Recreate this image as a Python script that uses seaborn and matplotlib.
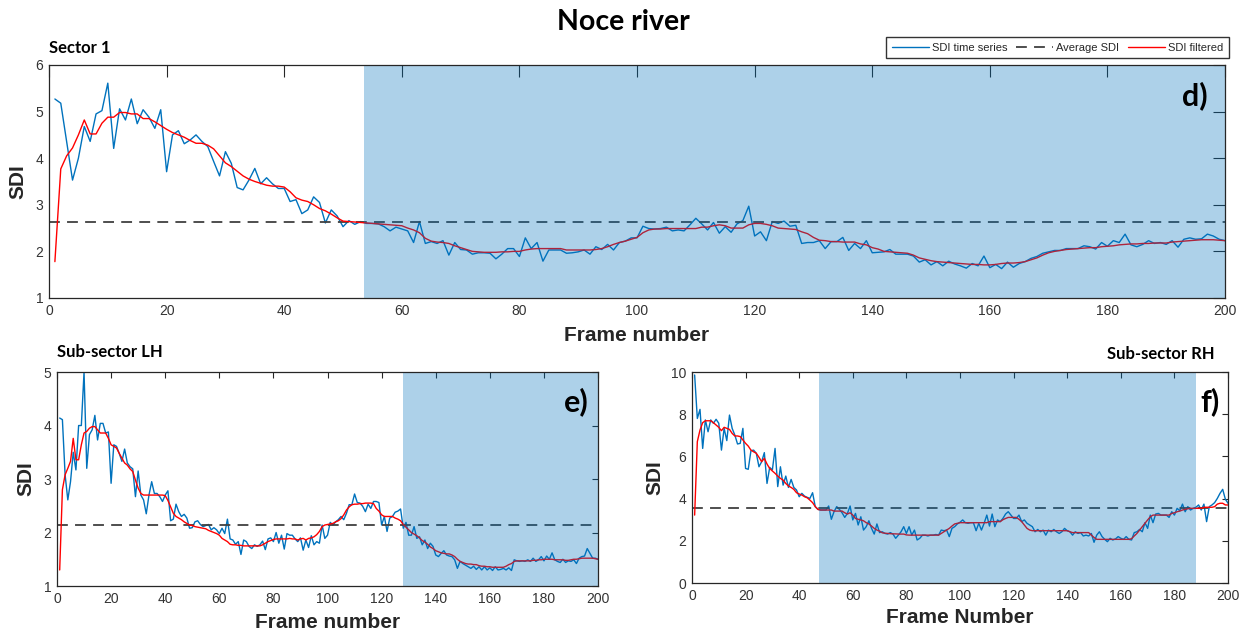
import numpy as np
import pandas as pd
import seaborn as sns
import matplotlib.pyplot as plt

frames = np.arange(1, 201)

# Sector 1
s1_raw = [5.27, 5.18, 4.35, 3.53, 4.0, 4.68, 4.36, 4.95, 5.02, 5.61,
          4.21, 5.06, 4.82, 5.27, 4.74, 5.04, 4.88, 4.64, 5.04, 3.71,
          4.5, 4.59, 4.31, 4.39, 4.5, 4.36, 4.25, 3.93, 3.62, 4.14,
          3.89, 3.37, 3.32, 3.53, 3.78, 3.45, 3.58, 3.45, 3.35, 3.35,
          3.07, 3.11, 2.81, 2.89, 3.17, 3.05, 2.61, 2.89, 2.76, 2.53,
          2.66, 2.58, 2.64, 2.6, 2.6, 2.59, 2.53, 2.44, 2.52, 2.48,
          2.44, 2.19, 2.64, 2.17, 2.21, 2.17, 2.23, 1.92, 2.19, 2.04,
          2.03, 1.94, 1.97, 1.97, 1.96, 1.84, 1.94, 2.06, 2.06, 1.89,
          2.29, 2.06, 2.19, 1.79, 2.03, 2.03, 2.03, 1.96, 1.97, 1.99,
          2.03, 1.94, 2.1, 2.04, 2.15, 2.03, 2.19, 2.22, 2.29, 2.29,
          2.54, 2.49, 2.48, 2.49, 2.52, 2.44, 2.46, 2.44, 2.57, 2.71,
          2.59, 2.46, 2.62, 2.39, 2.53, 2.41, 2.59, 2.66, 2.97, 2.33,
          2.42, 2.23, 2.64, 2.6, 2.65, 2.54, 2.56, 2.17, 2.19, 2.19,
          2.23, 2.06, 2.21, 2.21, 2.3, 2.02, 2.17, 2.06, 2.23, 1.97,
          1.98, 1.99, 2.04, 1.94, 1.94, 1.94, 1.9, 1.77, 1.82, 1.71,
          1.78, 1.69, 1.79, 1.73, 1.69, 1.64, 1.74, 1.69, 1.9, 1.65,
          1.72, 1.63, 1.77, 1.66, 1.74, 1.78, 1.85, 1.89, 1.96, 1.99,
          2.02, 2.02, 2.06, 2.06, 2.06, 2.12, 2.1, 2.05, 2.19, 2.11,
          2.23, 2.19, 2.37, 2.14, 2.1, 2.15, 2.23, 2.17, 2.19, 2.15,
          2.23, 2.09, 2.26, 2.29, 2.26, 2.27, 2.37, 2.33, 2.26, 2.23]
s1_filt = [1.78, 3.77, 4.05, 4.22, 4.5, 4.82, 4.52, 4.52, 4.75, 4.88,
           4.88, 4.98, 4.98, 4.95, 4.95, 4.85, 4.85, 4.78, 4.7, 4.62,
           4.55, 4.5, 4.45, 4.38, 4.32, 4.32, 4.28, 4.2, 4.05, 3.9,
           3.82, 3.72, 3.62, 3.55, 3.5, 3.46, 3.42, 3.4, 3.4, 3.38,
           3.28, 3.15, 3.1, 3.07, 3.0, 2.92, 2.87, 2.8, 2.72, 2.65,
           2.64, 2.63, 2.62, 2.61, 2.6, 2.59, 2.58, 2.57, 2.56, 2.55,
           2.5, 2.46, 2.4, 2.28, 2.22, 2.2, 2.19, 2.17, 2.12, 2.08,
           2.04, 2.0, 1.99, 1.98, 1.98, 1.98, 1.99, 1.99, 2.0, 2.0,
           2.03, 2.05, 2.06, 2.06, 2.06, 2.06, 2.06, 2.03, 2.03, 2.03,
           2.03, 2.03, 2.04, 2.06, 2.1, 2.15, 2.19, 2.22, 2.26, 2.3,
           2.4, 2.46, 2.48, 2.48, 2.49, 2.49, 2.49, 2.49, 2.49, 2.49,
           2.52, 2.52, 2.55, 2.57, 2.55, 2.5, 2.5, 2.5, 2.57, 2.6,
           2.6, 2.58, 2.55, 2.5, 2.49, 2.48, 2.47, 2.42, 2.38, 2.3,
           2.24, 2.23, 2.21, 2.21, 2.2, 2.2, 2.2, 2.16, 2.14, 2.08,
           2.05, 2.0, 1.99, 1.98, 1.97, 1.96, 1.92, 1.86, 1.83, 1.8,
           1.78, 1.77, 1.76, 1.75, 1.74, 1.73, 1.72, 1.72, 1.71, 1.71,
           1.72, 1.74, 1.75, 1.75, 1.76, 1.78, 1.82, 1.86, 1.92, 1.97,
           2.0, 2.02, 2.04, 2.05, 2.06, 2.07, 2.08, 2.08, 2.1, 2.11,
           2.12, 2.14, 2.15, 2.16, 2.16, 2.17, 2.17, 2.18, 2.18, 2.18,
           2.2, 2.21, 2.22, 2.23, 2.24, 2.25, 2.25, 2.25, 2.24, 2.23]
s1_avg = 2.62
s1_span = (53.5, 200)

# Sub-sector LH
lh_raw = [4.14, 4.11, 3.08, 2.61, 2.95, 3.5, 3.17, 4.0, 4.0, 5.0,
          3.2, 3.83, 3.92, 4.19, 3.73, 4.04, 4.04, 3.86, 3.88, 2.92,
          3.64, 3.61, 3.48, 3.33, 3.56, 3.3, 3.23, 3.19, 2.67, 3.15,
          2.7, 2.61, 2.35, 2.7, 2.95, 2.73, 2.73, 2.67, 2.58, 2.7,
          2.78, 2.22, 2.25, 2.53, 2.39, 2.3, 2.34, 2.27, 2.08, 2.09,
          2.2, 2.22, 2.15, 2.11, 2.13, 2.15, 2.05, 2.09, 2.05, 1.98,
          2.08, 1.98, 2.25, 1.88, 1.86, 1.78, 1.83, 1.59, 1.86, 1.83,
          1.74, 1.7, 1.77, 1.74, 1.77, 1.84, 1.68, 1.88, 1.9, 1.83,
          2.0, 1.8, 1.95, 1.69, 1.98, 1.95, 1.95, 1.88, 1.83, 1.9,
          1.67, 1.86, 1.72, 1.94, 1.77, 1.83, 1.8, 2.14, 1.89, 1.95,
          2.19, 2.14, 2.2, 2.24, 2.3, 2.24, 2.36, 2.52, 2.52, 2.72,
          2.56, 2.55, 2.49, 2.39, 2.53, 2.45, 2.58, 2.58, 2.56, 2.14,
          2.3, 2.02, 2.27, 2.3, 2.38, 2.4, 2.44, 2.08, 2.19, 1.95,
          1.95, 2.11, 1.89, 1.92, 1.77, 1.86, 1.7, 1.8, 1.74, 1.58,
          1.55, 1.61, 1.66, 1.58, 1.56, 1.55, 1.49, 1.33, 1.46, 1.42,
          1.39, 1.36, 1.33, 1.37, 1.31, 1.36, 1.3, 1.36, 1.3, 1.34,
          1.29, 1.36, 1.3, 1.31, 1.33, 1.3, 1.34, 1.29, 1.49, 1.47,
          1.46, 1.47, 1.46, 1.49, 1.46, 1.52, 1.46, 1.49, 1.55, 1.47,
          1.56, 1.5, 1.62, 1.49, 1.46, 1.44, 1.5, 1.44, 1.47, 1.46,
          1.49, 1.42, 1.52, 1.55, 1.56, 1.7, 1.61, 1.52, 1.52, 1.5]
lh_filt = [1.3, 2.8, 3.08, 3.2, 3.33, 3.76, 3.36, 3.36, 3.64, 3.86,
           3.89, 3.95, 3.98, 3.98, 3.92, 3.86, 3.86, 3.86, 3.76, 3.64,
           3.61, 3.58, 3.48, 3.39, 3.3, 3.26, 3.19, 3.14, 2.98, 2.83,
           2.73, 2.7, 2.7, 2.7, 2.7, 2.7, 2.7, 2.7, 2.7, 2.69,
           2.6, 2.48, 2.36, 2.3, 2.27, 2.24, 2.2, 2.17, 2.14, 2.13,
           2.11, 2.1, 2.09, 2.08, 2.07, 2.04, 2.02, 2.0, 1.98, 1.95,
           1.89, 1.86, 1.83, 1.78, 1.77, 1.77, 1.76, 1.76, 1.75, 1.75,
           1.75, 1.75, 1.75, 1.75, 1.75, 1.77, 1.8, 1.83, 1.85, 1.87,
           1.88, 1.88, 1.88, 1.88, 1.88, 1.89, 1.88, 1.88, 1.86, 1.88,
           1.89, 1.86, 1.89, 1.9, 1.92, 1.96, 2.02, 2.11, 2.14, 2.15,
           2.16, 2.17, 2.2, 2.22, 2.26, 2.33, 2.42, 2.48, 2.52, 2.53,
           2.53, 2.54, 2.54, 2.55, 2.55, 2.55, 2.54, 2.45, 2.4, 2.33,
           2.3, 2.3, 2.3, 2.3, 2.27, 2.25, 2.22, 2.15, 2.1, 2.05,
           2.0, 1.97, 1.94, 1.9, 1.85, 1.82, 1.78, 1.73, 1.7, 1.66,
           1.64, 1.62, 1.61, 1.6, 1.6, 1.58, 1.55, 1.5, 1.46, 1.44,
           1.42, 1.41, 1.41, 1.4, 1.4, 1.38, 1.37, 1.37, 1.36, 1.36,
           1.35, 1.35, 1.35, 1.35, 1.35, 1.37, 1.4, 1.42, 1.46, 1.47,
           1.47, 1.47, 1.47, 1.47, 1.47, 1.48, 1.48, 1.49, 1.49, 1.5,
           1.5, 1.5, 1.5, 1.49, 1.49, 1.49, 1.49, 1.48, 1.48, 1.49,
           1.5, 1.5, 1.51, 1.52, 1.52, 1.52, 1.52, 1.52, 1.51, 1.5]
lh_avg = 2.14
lh_span = (128, 200)

# Sub-sector RH
rh_raw = [9.86, 7.8, 8.23, 6.38, 7.73, 7.17, 7.73, 7.57, 7.76, 7.57,
          6.3, 7.33, 6.75, 7.96, 7.33, 7.01, 6.59, 6.62, 7.33, 5.43,
          5.39, 6.27, 6.3, 6.15, 5.51, 5.75, 6.18, 4.72, 5.48, 5.36,
          6.38, 4.57, 5.51, 4.64, 5.07, 4.53, 4.91, 4.53, 4.41, 4.09,
          4.25, 4.12, 4.06, 4.01, 4.28, 3.62, 3.49, 3.46, 3.46, 3.46,
          3.65, 3.02, 3.38, 3.62, 3.49, 3.33, 3.11, 3.3, 3.65, 2.99,
          3.3, 2.75, 3.14, 2.51, 2.67, 2.95, 2.59, 2.32, 2.8, 2.39,
          2.43, 2.35, 2.32, 2.39, 2.32, 2.12, 2.27, 2.43, 2.67, 2.35,
          2.67, 2.27, 2.51, 2.04, 2.12, 2.27, 2.27, 2.23, 2.27, 2.27,
          2.3, 2.27, 2.51, 2.48, 2.51, 2.2, 2.59, 2.67, 2.8, 2.88,
          2.99, 2.86, 2.83, 2.86, 2.86, 2.48, 2.83, 2.51, 2.83, 3.22,
          2.7, 3.27, 2.67, 2.99, 2.91, 3.06, 3.27, 3.38, 3.22, 3.06,
          3.06, 3.22, 2.91, 2.99, 2.83, 2.75, 2.67, 2.43, 2.54, 2.43,
          2.51, 2.27, 2.51, 2.43, 2.54, 2.43, 2.35, 2.43, 2.59, 2.48,
          2.43, 2.27, 2.43, 2.35, 2.39, 2.23, 2.27, 2.23, 2.35, 1.93,
          2.27, 2.43, 2.2, 2.07, 1.96, 2.12, 2.04, 2.09, 2.2, 2.12,
          2.07, 2.2, 2.07, 2.04, 2.39, 2.43, 2.54, 2.43, 2.86, 2.59,
          3.22, 2.86, 3.27, 3.3, 3.22, 3.22, 3.22, 3.11, 3.38, 3.22,
          3.54, 3.43, 3.74, 3.38, 3.62, 3.46, 3.54, 3.59, 3.7, 3.46,
          3.74, 2.91, 3.62, 3.7, 3.81, 4.01, 4.25, 4.44, 3.97, 3.78]
rh_filt = [3.22, 6.7, 7.25, 7.6, 7.69, 7.69, 7.69, 7.6, 7.49, 7.38,
           7.22, 7.38, 7.33, 7.28, 7.09, 6.97, 6.97, 6.94, 6.78, 6.62,
           6.49, 6.3, 6.22, 6.15, 5.96, 5.75, 5.91, 5.64, 5.43, 5.31,
           5.2, 5.07, 4.96, 4.88, 4.72, 4.6, 4.53, 4.44, 4.28, 4.22,
           4.17, 4.09, 4.04, 3.93, 3.81, 3.62, 3.49, 3.46, 3.46, 3.46,
           3.46, 3.46, 3.41, 3.41, 3.41, 3.41, 3.33, 3.27, 3.33, 3.22,
           3.06, 3.02, 2.99, 2.95, 2.86, 2.8, 2.7, 2.59, 2.51, 2.46,
           2.38, 2.36, 2.35, 2.34, 2.33, 2.33, 2.32, 2.32, 2.32, 2.28,
           2.27, 2.27, 2.27, 2.27, 2.27, 2.27, 2.27, 2.27, 2.27, 2.27,
           2.27, 2.27, 2.35, 2.43, 2.51, 2.59, 2.7, 2.8, 2.83, 2.86,
           2.86, 2.86, 2.86, 2.86, 2.86, 2.86, 2.86, 2.86, 2.86, 2.86,
           2.91, 2.91, 2.91, 2.91, 2.91, 3.0, 3.06, 3.11, 3.11, 3.11,
           3.11, 3.02, 2.91, 2.75, 2.59, 2.51, 2.48, 2.48, 2.48, 2.48,
           2.48, 2.48, 2.48, 2.48, 2.48, 2.48, 2.48, 2.48, 2.48, 2.48,
           2.43, 2.39, 2.39, 2.39, 2.39, 2.39, 2.39, 2.39, 2.27, 2.16,
           2.07, 2.07, 2.07, 2.07, 2.07, 2.07, 2.07, 2.07, 2.07, 2.07,
           2.07, 2.07, 2.07, 2.1, 2.23, 2.35, 2.51, 2.67, 2.83, 2.99,
           3.14, 3.22, 3.22, 3.22, 3.22, 3.22, 3.22, 3.22, 3.3, 3.33,
           3.38, 3.41, 3.46, 3.49, 3.52, 3.54, 3.54, 3.54, 3.54, 3.54,
           3.59, 3.59, 3.59, 3.59, 3.62, 3.74, 3.78, 3.78, 3.7, 3.7]
rh_avg = 3.55
rh_span = (47.5, 188)

BLUE = "#0072BD"
RED = "#FF0000"
TXT = "#262626"

sns.set_theme(style="white")
plt.rcParams["font.family"] = ["Liberation Sans", "DejaVu Sans"]
plt.rcParams["axes.edgecolor"] = TXT
plt.rcParams["axes.linewidth"] = 0.9

fig = plt.figure(figsize=(12.47, 6.34), dpi=100)
ax_top = fig.add_axes([0.0393, 0.530, 0.9431, 0.3675])
ax_lh = fig.add_axes([0.0457, 0.0757, 0.4339, 0.3375])
ax_rh = fig.add_axes([0.5549, 0.0804, 0.4299, 0.3328])


def draw_panel(ax, raw, filt, avg, span, ylim, yticks, ticklen):
    df = pd.DataFrame({"frame": frames, "raw": raw, "filt": filt})
    sns.lineplot(data=df, x="frame", y="raw", ax=ax, color=BLUE, lw=1.0,
                 label="SDI time series", legend=False)
    ax.axhline(avg, color="#404040", lw=1.3, ls=(0, (6, 4)), label="Average SDI")
    sns.lineplot(data=df, x="frame", y="filt", ax=ax, color=RED, lw=1.0,
                 label="SDI filtered", legend=False)
    ax.axvspan(span[0], span[1], color=BLUE, alpha=0.32, lw=0, zorder=5)
    ax.set_xlim(0, 200)
    ax.set_ylim(*ylim)
    ax.set_xticks(range(0, 201, 20))
    ax.set_yticks(yticks)
    ax.tick_params(direction="in", length=ticklen, width=0.8, colors=TXT,
                   labelsize=10, top=True, right=True, pad=4)
    ax.tick_params(labelcolor="#333333")
    for s in ax.spines.values():
        s.set_visible(True)
        s.set_zorder(6)


draw_panel(ax_top, s1_raw, s1_filt, s1_avg, s1_span, (1, 6), range(1, 7), 8.5)
draw_panel(ax_lh, lh_raw, lh_filt, lh_avg, lh_span, (1, 5), range(1, 6), 4.5)
draw_panel(ax_rh, rh_raw, rh_filt, rh_avg, rh_span, (0, 10), range(0, 11, 2), 4.5)

lab = dict(fontsize=15, fontweight="bold", color=TXT)
ax_top.set_xlabel("Frame number", labelpad=6, **lab)
ax_top.set_ylabel("SDI", labelpad=6, **lab)
ax_lh.set_xlabel("Frame number", labelpad=5, **lab)
ax_lh.set_ylabel("SDI", labelpad=6, **lab)
ax_rh.set_xlabel("Frame Number", labelpad=4, **lab)
ax_rh.set_ylabel("SDI", labelpad=5, **lab)

title_font = ["Lato", "DejaVu Sans"]
fig.text(0.5, 0.965, "Noce river", ha="center", va="center", fontsize=20.5,
         fontweight="bold", family=title_font, color="black")
fig.text(0.0393, 0.925, "Sector 1", ha="left", va="center", fontsize=12,
         fontweight="bold", family=title_font, color="black")
fig.text(0.046, 0.445, "Sub-sector LH", ha="left", va="center", fontsize=12,
         fontweight="bold", family=title_font, color="black")
fig.text(0.974, 0.441, "Sub-sector RH", ha="right", va="center", fontsize=12,
         fontweight="bold", family=title_font, color="black")

for ax, letter, x in [(ax_top, "d)", 0.985), (ax_lh, "e)", 0.982), (ax_rh, "f)", 0.985)]:
    ax.text(x, 0.93, letter, transform=ax.transAxes, ha="right", va="top",
            fontsize=22, fontweight="bold", family=title_font, color="black",
            zorder=7)

handles, labels = ax_top.get_legend_handles_labels()
fig.legend(handles, labels, loc="upper right", bbox_to_anchor=(0.9856, 0.9416),
           ncol=3, fontsize=8, frameon=True, fancybox=False, edgecolor="#333333",
           framealpha=1, handlelength=3.3, borderpad=0.5, columnspacing=0.8,
           handletextpad=0.3, borderaxespad=0.0)

fig.savefig("out.png", dpi=100)
